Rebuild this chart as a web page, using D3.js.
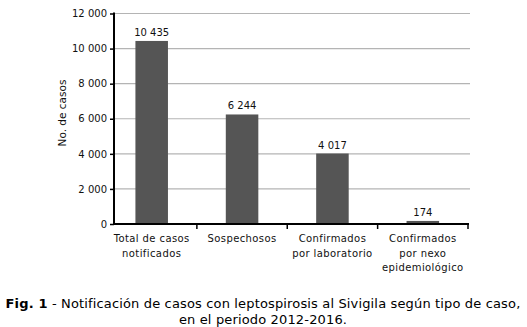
<!DOCTYPE html>
<html><head><meta charset="utf-8">
<script src="https://cdn.jsdelivr.net/npm/d3@7"></script>
<style>body{margin:0;background:#fff}svg{display:block}text{font-family:"DejaVu Sans",Verdana,sans-serif}</style>
</head><body>
<svg id="c" width="527" height="327"></svg>
<script>
const categories = [["Total de casos","notificados"],["Sospechosos"],["Confirmados","por laboratorio"],["Confirmados","por nexo","epidemiológico"]];
const values = [10435, 6244, 4017, 174];
const yTicks = [0, 2000, 4000, 6000, 8000, 10000, 12000];
const yLabel = "No. de casos";

const svg = d3.select("#c");
const fmt = v => d3.format(",")(v).replace(/,/g, " ");
const x = d3.scaleBand().domain(d3.range(values.length)).range([106.5, 468]).paddingInner(0.64).paddingOuter(0.32);
const y = d3.scaleLinear().domain([0, 12000]).range([224, 13.5]);
const axisX0 = 114, axisX1 = 468;

// grid
svg.append("g").selectAll("line").data(yTicks.filter(d => d > 0)).join("line")
  .attr("x1", axisX0).attr("x2", 470).attr("y1", d => y(d)).attr("y2", d => y(d))
  .attr("stroke", "#b4b4b4").attr("stroke-width", 1.2);

// bars
svg.append("g").selectAll("rect").data(values).join("rect")
  .attr("x", (d, i) => x(i)).attr("width", x.bandwidth())
  .attr("y", d => y(d)).attr("height", d => y(0) - y(d))
  .attr("fill", "#555555");

// value labels
svg.append("g").selectAll("text").data(values).join("text")
  .attr("x", (d, i) => x(i) + x.bandwidth() / 2).attr("y", d => y(d) - 5)
  .attr("text-anchor", "middle").attr("font-size", 10).attr("fill", "#111").text(d => fmt(d));

// y axis
const yAxis = d3.axisLeft(y).tickValues(yTicks).tickSize(4).tickPadding(3).tickFormat(fmt);
const gy = svg.append("g").attr("transform", `translate(${axisX0},0)`).call(yAxis);
gy.select(".domain").remove();
gy.selectAll(".tick line").attr("stroke", "#000").attr("stroke-width", 1.5);
gy.selectAll(".tick text").attr("font-size", 10).attr("fill", "#111").attr("font-family", "DejaVu Sans");
svg.append("line").attr("x1", axisX0).attr("x2", axisX0).attr("y1", y(12000) - 1).attr("y2", y(0) + 1)
  .attr("stroke", "#000").attr("stroke-width", 2);

// x axis
svg.append("line").attr("x1", axisX0 - 1).attr("x2", axisX1 + 1).attr("y1", y(0)).attr("y2", y(0))
  .attr("stroke", "#000").attr("stroke-width", 2);
const tickXs = d3.range(1, values.length + 1).map(i => x(i - 1) + x.bandwidth() / 2 + x.step() / 2);
svg.append("g").selectAll("line").data(tickXs).join("line")
  .attr("x1", d => d).attr("x2", d => d).attr("y1", y(0)).attr("y2", y(0) + 5)
  .attr("stroke", "#000").attr("stroke-width", 1.5);

// category labels
const cl = svg.append("g").selectAll("text").data(categories).join("text")
  .attr("x", (d, i) => x(i) + x.bandwidth() / 2).attr("y", 242)
  .attr("text-anchor", "middle").attr("font-size", 10).attr("letter-spacing", 0.4).attr("fill", "#111");
cl.selectAll("tspan").data(d => d).join("tspan")
  .attr("x", function() { return d3.select(this.parentNode).attr("x"); })
  .attr("dy", (d, i) => i === 0 ? 0 : 14.5).text(d => d);

// y label
svg.append("text").attr("transform", "translate(66,113) rotate(-90)")
  .attr("text-anchor", "middle").attr("font-size", 10.5).attr("fill", "#111").text(yLabel);

// caption
const cap = svg.append("text").attr("x", 263).attr("y", 308).attr("text-anchor", "middle")
  .attr("font-size", 13).attr("letter-spacing", 0.15).attr("fill", "#000");
cap.append("tspan").attr("font-weight", "bold").text("Fig. 1");
cap.append("tspan").text(" - Notificación de casos con leptospirosis al Sivigila según tipo de caso,");
svg.append("text").attr("x", 263).attr("y", 324).attr("text-anchor", "middle")
  .attr("font-size", 13).attr("letter-spacing", 0.15).attr("fill", "#000").text("en el periodo 2012-2016.");
</script>
</body></html>
